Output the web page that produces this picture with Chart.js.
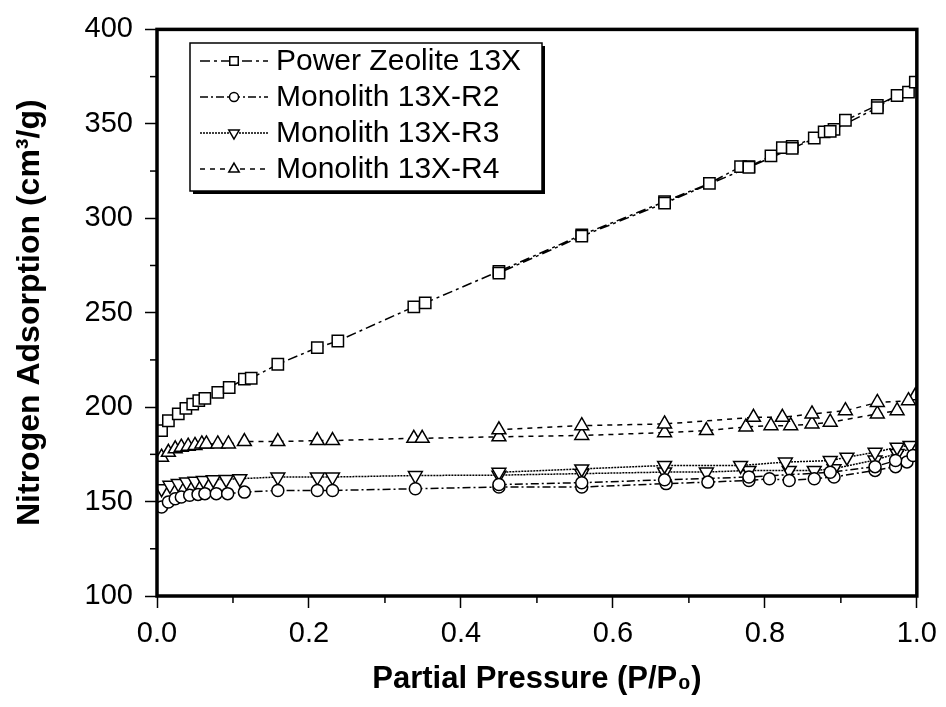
<!DOCTYPE html>
<html>
<head>
<meta charset="utf-8">
<script src="https://cdn.jsdelivr.net/npm/chart.js@4/dist/chart.umd.min.js"></script>
<style>
  body { margin: 0; background: #fff; }
  #wrap { width: 946px; height: 707px; position: relative; }
</style>
</head>
<body>
<div id="wrap"><canvas id="isotherm"></canvas></div>
<script>
// Series labels
const seriesLabels = ['Power Zeolite 13X', 'Monolith 13X-R2', 'Monolith 13X-R3', 'Monolith 13X-R4'];

// Power Zeolite 13X (squares) - adsorption then desorption branch
const zeoliteAdsX = [0.006, 0.015, 0.028, 0.038, 0.047, 0.055, 0.063, 0.080, 0.095, 0.115, 0.124, 0.159, 0.211, 0.238, 0.338, 0.353, 0.450, 0.559, 0.668, 0.727, 0.768, 0.779, 0.808, 0.823, 0.836, 0.865, 0.878, 0.891, 0.906, 0.948, 0.974, 0.989, 0.998];
const zeoliteAdsY = [187.6, 192.8, 196.4, 199.3, 201.6, 203.4, 204.6, 207.8, 210.4, 214.8, 215.3, 222.7, 231.5, 235.0, 253.1, 255.2, 271.9, 291.2, 308.8, 318.5, 327.3, 327.3, 333.0, 337.4, 338.0, 342.5, 345.7, 347.1, 351.9, 359.8, 365.0, 366.8, 372.1];
const zeoliteDesX = [0.948, 0.886, 0.836, 0.779, 0.668, 0.559, 0.450];
const zeoliteDesY = [358.5, 346.0, 337.0, 327.0, 308.0, 290.5, 271.0];

// Monolith 13X-R2 (circles)
const r2AdsX = [0.006, 0.015, 0.024, 0.032, 0.043, 0.054, 0.063, 0.078, 0.093, 0.115, 0.159, 0.211, 0.231, 0.340, 0.450, 0.559, 0.670, 0.725, 0.779, 0.806, 0.832, 0.865, 0.891, 0.945, 0.972, 0.987];
const r2AdsY = [147.1, 149.8, 151.5, 152.4, 153.3, 153.8, 154.2, 154.2, 154.2, 155.0, 155.9, 155.9, 155.9, 156.8, 157.7, 157.7, 159.5, 160.3, 161.2, 162.1, 161.2, 162.1, 163.0, 166.5, 168.5, 171.0];
const r2DesX = [0.995, 0.972, 0.945, 0.886, 0.779, 0.668, 0.559, 0.450];
const r2DesY = [174.4, 171.7, 168.5, 165.5, 163.0, 161.5, 160.0, 159.0];

// Monolith 13X-R3 (down triangles)
const r3AdsX = [0.006, 0.017, 0.028, 0.039, 0.050, 0.061, 0.074, 0.091, 0.109, 0.159, 0.211, 0.231, 0.340, 0.450, 0.559, 0.668, 0.723, 0.779, 0.832, 0.865, 0.891, 0.945, 0.974, 0.998];
const r3AdsY = [156.8, 158.6, 159.5, 160.3, 160.7, 161.2, 161.6, 161.7, 162.1, 163.0, 163.0, 163.0, 163.8, 164.0, 164.8, 165.6, 165.6, 166.5, 166.5, 166.5, 167.4, 172.0, 175.5, 179.0];
const r3DesX = [0.991, 0.974, 0.945, 0.908, 0.886, 0.827, 0.768, 0.668, 0.559, 0.450];
const r3DesY = [179.7, 178.8, 176.1, 173.5, 171.7, 170.9, 169.1, 169.1, 167.3, 165.5];

// Monolith 13X-R4 (up triangles)
const r4AdsX = [0.006, 0.015, 0.024, 0.032, 0.041, 0.050, 0.059, 0.065, 0.080, 0.094, 0.115, 0.159, 0.211, 0.231, 0.338, 0.349, 0.450, 0.559, 0.668, 0.723, 0.775, 0.808, 0.834, 0.862, 0.886, 0.948, 0.974, 0.998];
const r4AdsY = [173.5, 176.1, 177.9, 178.8, 179.3, 179.7, 180.5, 180.5, 180.5, 180.5, 181.8, 181.8, 182.3, 182.3, 183.5, 183.5, 184.3, 185.0, 186.5, 187.6, 189.5, 190.2, 190.2, 191.1, 192.0, 196.4, 198.1, 206.0];
const r4DesX = [0.989, 0.948, 0.906, 0.862, 0.823, 0.785, 0.668, 0.559, 0.450];
const r4DesY = [203.4, 202.5, 198.1, 196.4, 194.6, 194.6, 191.1, 190.2, 188.0];

// Axis ticks
const xMajorTicks = [0, 0.2, 0.4, 0.6, 0.8, 1.0];
const xMinorTicks = [0.1, 0.3, 0.5, 0.7, 0.9];
const yMinorTicks = [125, 175, 225, 275, 325, 375];

function toPoints(xs, ys) {
    return xs.map((x, i) => ({ x: x, y: ys[i] }));
}

const FONT = '"Liberation Sans", Arial, sans-serif';

function series(label, ads, des, style, rotation, radius, dash) {
    return {
        label: label,
        data: toPoints(ads[0], ads[1]).concat(toPoints(des[0], des[1])),
        borderColor: '#000',
        borderWidth: 1.5,
        borderDash: dash,
        pointStyle: style,
        rotation: rotation,
        pointRadius: radius,
        pointBorderWidth: 1.5,
        pointBorderColor: '#000',
        pointBackgroundColor: '#fff',
        tension: 0,
        fill: false
    };
}

// Frame, minor ticks and the boxed legend
const framePlugin = {
    id: 'framePlugin',
    afterDraw(chart) {
        const ctx = chart.ctx;
        const a = chart.chartArea;
        const xs = chart.scales.x;
        const ys = chart.scales.y;
        ctx.save();
        ctx.strokeStyle = '#000';
        ctx.lineWidth = 3.5;
        ctx.strokeRect(a.left, a.top, a.right - a.left, a.bottom - a.top);

        ctx.lineWidth = 1.5;
        xMinorTicks.forEach(v => {
            const px = xs.getPixelForValue(v);
            ctx.beginPath();
            ctx.moveTo(px, a.bottom);
            ctx.lineTo(px, a.bottom + 7);
            ctx.stroke();
        });
        yMinorTicks.forEach(v => {
            const py = ys.getPixelForValue(v);
            ctx.beginPath();
            ctx.moveTo(a.left, py);
            ctx.lineTo(a.left - 7, py);
            ctx.stroke();
        });

        // legend box
        const bx = 190, by = 43, bw = 352, bh = 148;
        ctx.fillStyle = '#000';
        ctx.fillRect(bx + 3, by + 3, bw, bh);
        ctx.fillStyle = '#fff';
        ctx.fillRect(bx, by, bw, bh);
        ctx.lineWidth = 1.5;
        ctx.strokeRect(bx, by, bw, bh);

        chart.data.datasets.forEach((ds, i) => {
            const y = 61 + i * 36;
            ctx.strokeStyle = '#000';
            ctx.lineWidth = 1.5;
            ctx.setLineDash(ds.borderDash);
            ctx.beginPath();
            ctx.moveTo(200, y);
            ctx.lineTo(268, y);
            ctx.stroke();
            ctx.setLineDash([]);
            ctx.fillStyle = '#fff';
            Chart.helpers.drawPoint(ctx, {
                pointStyle: ds.pointStyle,
                radius: ds.pointStyle === 'circle' ? 4.5 : 6,
                rotation: ds.rotation || 0,
                borderWidth: 1.5
            }, 234, y);
            ctx.fillStyle = '#000';
            ctx.font = '30px ' + FONT;
            ctx.textBaseline = 'middle';
            ctx.textAlign = 'left';
            ctx.fillText(ds.label, 276, y + 1);
        });
        ctx.restore();
    }
};

const chart = new Chart(document.getElementById('isotherm').getContext('2d'), {
    type: 'line',
    data: {
        datasets: [
            series(seriesLabels[0], [zeoliteAdsX, zeoliteAdsY], [zeoliteDesX, zeoliteDesY], 'rect', 0, 8, [10, 4, 3, 4]),
            series(seriesLabels[1], [r2AdsX, r2AdsY], [r2DesX, r2DesY], 'circle', 0, 6, [8, 3, 2, 3]),
            series(seriesLabels[2], [r3AdsX, r3AdsY], [r3DesX, r3DesY], 'triangle', 180, 8, [2, 1]),
            series(seriesLabels[3], [r4AdsX, r4AdsY], [r4DesX, r4DesY], 'triangle', 0, 8, [5, 5])
        ]
    },
    options: {
        responsive: true,
        maintainAspectRatio: false,
        animation: false,
        layout: {
            padding: { top: 27, right: 26, bottom: 0, left: 0 }
        },
        plugins: {
            legend: { display: false },
            tooltip: { enabled: false }
        },
        scales: {
            x: {
                type: 'linear',
                min: 0,
                max: 1,
                afterFit: (scale) => { scale.height = 111; },
                afterBuildTicks: (scale) => { scale.ticks = xMajorTicks.map(v => ({ value: v })); },
                grid: {
                    drawOnChartArea: false,
                    tickLength: 12,
                    tickWidth: 1.5,
                    tickColor: '#000'
                },
                border: { display: false },
                ticks: {
                    color: '#000',
                    padding: 9,
                    maxRotation: 0,
                    font: { family: FONT, size: 29 },
                    callback: (v) => Number(v).toFixed(1)
                },
                title: {
                    display: true,
                    text: 'Partial Pressure (P/P\u2080)',
                    color: '#000',
                    font: { family: FONT, size: 31, weight: 'bold' },
                    padding: { top: 0, bottom: 9 }
                }
            },
            y: {
                min: 100,
                max: 400,
                afterFit: (scale) => { scale.width = 157; },
                grid: {
                    drawOnChartArea: false,
                    tickLength: 12,
                    tickWidth: 1.5,
                    tickColor: '#000'
                },
                border: { display: false },
                ticks: {
                    stepSize: 50,
                    color: '#000',
                    padding: 12,
                    font: { family: FONT, size: 29 }
                },
                title: {
                    display: true,
                    text: 'Nitrogen Adsorption (cm\u00B3/g)',
                    color: '#000',
                    font: { family: FONT, size: 32, weight: 'bold' },
                    padding: { top: 11, bottom: 0 }
                }
            }
        }
    },
    plugins: [framePlugin]
});
</script>
</body>
</html>
